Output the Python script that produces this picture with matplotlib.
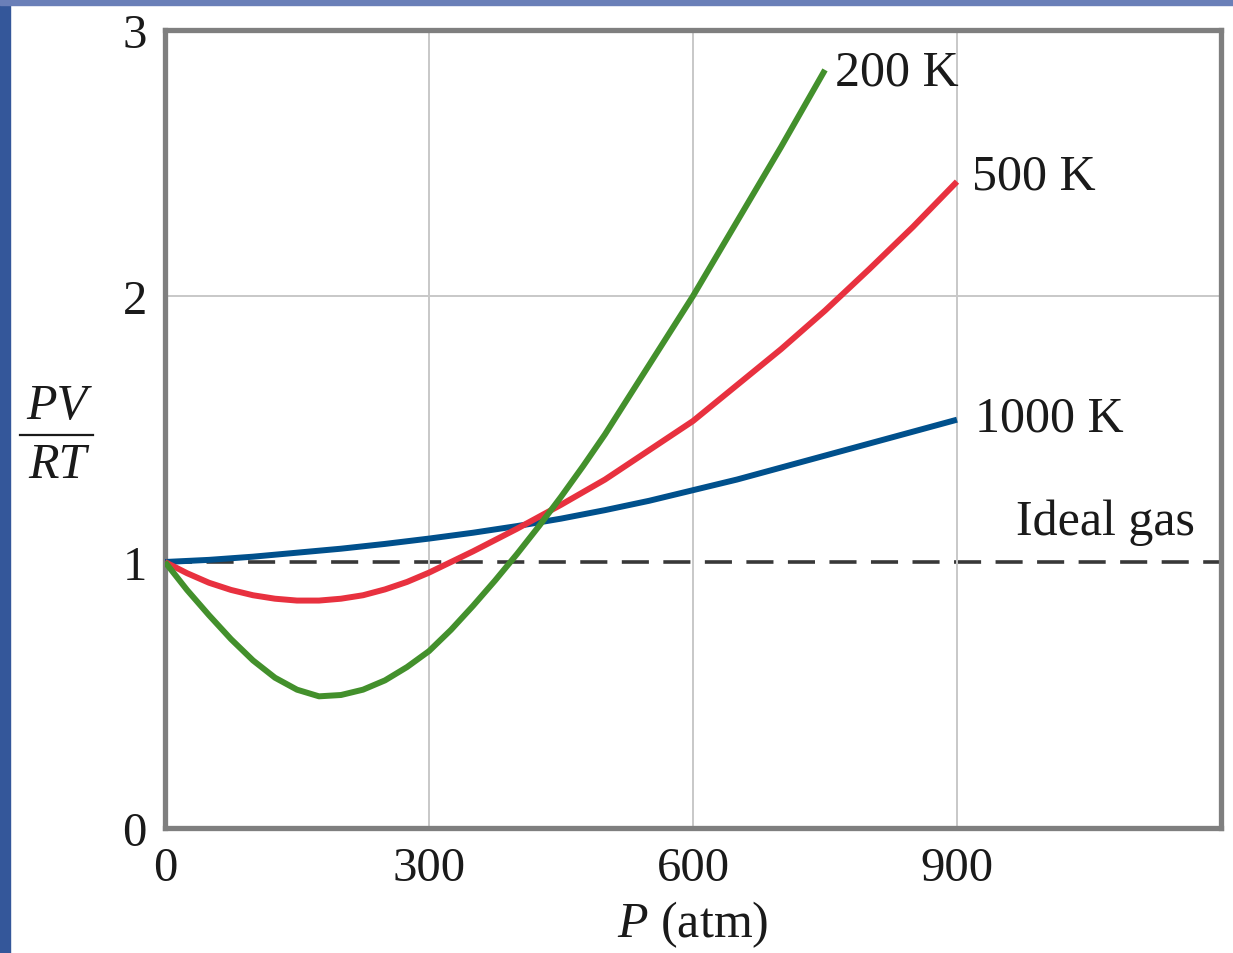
import numpy as np
import matplotlib
matplotlib.use('Agg')
import matplotlib.pyplot as plt
from matplotlib.patches import Rectangle
from matplotlib.lines import Line2D

plt.rcParams['font.family'] = ['Liberation Serif', 'DejaVu Serif']
plt.rcParams['mathtext.fontset'] = 'custom'
plt.rcParams['mathtext.it'] = 'Liberation Serif:italic'
plt.rcParams['mathtext.rm'] = 'Liberation Serif'

# 200 K
p_200 = [0, 25, 50, 75, 100, 125, 150, 175, 200, 225, 250, 275, 300, 325, 350, 375, 400,
         425, 450, 475, 500, 550, 600, 650, 700, 750]
z_200 = [1.0, 0.895, 0.80, 0.71, 0.63, 0.565, 0.52, 0.495, 0.50, 0.52, 0.555, 0.605, 0.665,
         0.745, 0.835, 0.93, 1.03, 1.135, 1.245, 1.36, 1.48, 1.74, 2.0, 2.28, 2.56, 2.85]
# 500 K
p_500 = [0, 25, 50, 75, 100, 125, 150, 175, 200, 225, 250, 275, 300, 350, 400, 450, 500,
         550, 600, 650, 700, 750, 800, 850, 900]
z_500 = [1.0, 0.958, 0.922, 0.895, 0.875, 0.862, 0.855, 0.855, 0.862, 0.875, 0.897, 0.925,
         0.96, 1.04, 1.125, 1.215, 1.31, 1.42, 1.53, 1.665, 1.80, 1.945, 2.10, 2.26, 2.43]
# 1000 K
p_1000 = [0, 50, 100, 150, 200, 250, 300, 350, 400, 450, 500, 550, 600, 650, 700, 750, 800, 850, 900]
z_1000 = [1.0, 1.008, 1.02, 1.035, 1.05, 1.068, 1.088, 1.11, 1.135, 1.163, 1.195, 1.23,
          1.27, 1.31, 1.355, 1.40, 1.445, 1.49, 1.535]

x_ticks = [0, 300, 600, 900]
y_ticks = [0, 1, 2, 3]

fig = plt.figure(figsize=(12.33, 9.54), dpi=100, facecolor='white')

# blue strip of the slide behind
fig.patches.append(Rectangle((0, 0), 10 / 1233, 1, transform=fig.transFigure, color='#34579a', zorder=0))
fig.patches.append(Rectangle((0, 1 - 6 / 954), 1, 6 / 954, transform=fig.transFigure, color='#6a7fb8', zorder=0))

ax = fig.add_axes([165 / 1233, 1 - 829 / 954, (1221 - 165) / 1233, (829 - 31) / 954])
ax.set_xlim(0, 1200)
ax.set_ylim(0, 3)
ax.set_xticks(x_ticks)
ax.set_yticks(y_ticks)
ax.tick_params(length=0, labelsize=35, pad=13, colors='#1a1a1a')
ax.grid(True, axis='x', color='#c8c8c8', lw=1.4, zorder=0)
ax.axhline(2, color='#c8c8c8', lw=1.4, zorder=0)
for s in ax.spines.values():
    s.set_color('#7f7f7f')
    s.set_linewidth(3.8)

ax.axhline(1, color='#383838', lw=2.6, dashes=(7.5, 4), zorder=1)
ax.plot(p_1000, z_1000, color='#00508c', lw=4.3, solid_capstyle='butt', zorder=3)
ax.plot(p_500, z_500, color='#e8313f', lw=4.3, solid_capstyle='butt', zorder=3)
ax.plot(p_200, z_200, color='#43902c', lw=4.3, solid_capstyle='butt', zorder=4)

txt = dict(fontsize=36, color='#1a1a1a', va='center')
ax.text(761, 2.84, '200 K', ha='left', **txt)
ax.text(917, 2.45, '500 K', ha='left', **txt)
ax.text(920, 1.54, '1000 K', ha='left', **txt)
ax.text(1170, 1.15, 'Ideal gas', ha='right', **txt)

ax.set_xlabel('$P$ (atm)', fontsize=36, color='#1a1a1a', labelpad=6)

# y label drawn as a stacked fraction
fig.text(57 / 1233, 1 - 407 / 954, 'PV', fontsize=36, style='italic', ha='center', va='center', color='#1a1a1a')
fig.text(57 / 1233, 1 - 466 / 954, 'RT', fontsize=36, style='italic', ha='center', va='center', color='#1a1a1a')
fig.add_artist(Line2D([20 / 1233, 93 / 1233], [1 - 436 / 954, 1 - 436 / 954], color='#1a1a1a', lw=1.6))

fig.savefig('out.png', dpi=100, facecolor='white')
